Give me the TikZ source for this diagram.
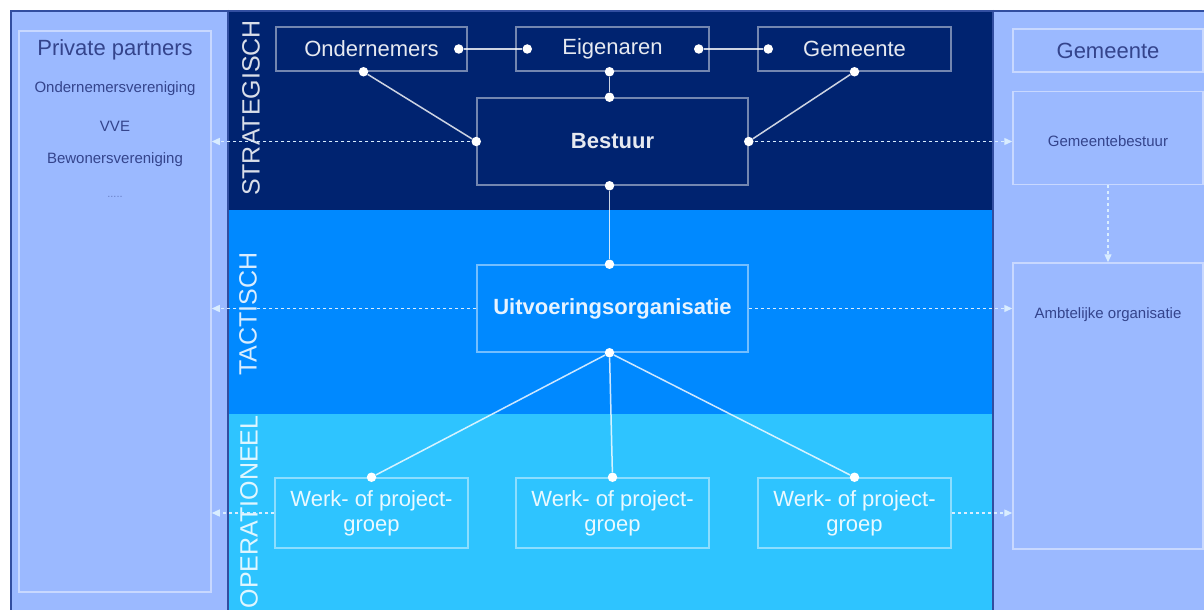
\documentclass[tikz,border=0pt]{standalone}
\usepackage{fontspec}
\setmainfont{Liberation Sans}
\usepackage{tikz}
\usetikzlibrary{arrows.meta}
\definecolor{navy}{RGB}{0,35,112}
\definecolor{tactblue}{RGB}{0,137,255}
\definecolor{operblue}{RGB}{46,196,255}
\definecolor{panelblue}{RGB}{155,185,255}
\definecolor{frameblue}{RGB}{50,78,160}
\definecolor{paneltext}{RGB}{52,68,140}

\begin{document}
\begin{tikzpicture}[x=1pt,y=-1pt]
\tikzset{box/.style = {shape=rectangle,draw=white,draw opacity=0.45,line width=1.5pt,inner sep=0pt,minimum width=193pt,minimum height=44pt,text=white,text opacity=0.9,font=\fontsize{22}{25}\selectfont,align=center}}
\tikzset{pbox/.style = {shape=rectangle,draw=white,draw opacity=0.45,line width=1.5pt,inner sep=0pt,minimum width=190pt}}
\tikzset{ptext/.style = {text=paneltext,font=\fontsize{15}{18}\selectfont,inner sep=0pt}}
\tikzset{level/.style = {text=white,text opacity=0.85,font=\fontsize{25}{28}\selectfont,rotate=90,inner sep=0pt}}
\tikzset{dot/.style = {shape=circle,fill=white,inner sep=0pt,minimum size=9.5pt}}
\tikzset{link/.style = {draw=white,draw opacity=0.8,line width=1.5pt}}
\tikzset{relation/.style = {-{Triangle[length=8pt,width=7pt]},draw=white!85!tactblue,line width=1.3pt,dash pattern=on 3pt off 3pt}}
\useasboundingbox (0,0) rectangle (1204,610);
\clip (0,0) rectangle (1204,610);
\fill[white] (0,0) rectangle (1204,610);
\fill[panelblue] (10,10) rectangle (1210,620);
\fill[navy] (229,10) rectangle (993,210);
\fill[tactblue] (229,210) rectangle (993,414);
\fill[operblue] (229,414) rectangle (993,620);
\draw[frameblue,line width=2.5pt] (11,11) rectangle (1215,625);
\draw[frameblue,line width=2.5pt] (228,10) -- (228,620);
\draw[frameblue,line width=2.5pt] (993,10) -- (993,620);
\node[level](strat) at (251, 108) {STRATEGISCH};
\node[level](tact) at (248, 314) {TACTISCH};
\node[level](oper) at (249, 512) {OPERATIONEEL};
\node[pbox,minimum width=192pt,minimum height=561pt](priv) at (115, 311.5) {};
\node[ptext,font=\fontsize{22}{25}\selectfont](privtitle) at (115, 50) {Private partners};
\node[ptext](ondv) at (115, 89) {Ondernemersvereniging};
\node[ptext](vve) at (115, 126) {VVE};
\node[ptext](bewv) at (115, 160) {Bewonersvereniging};
\node[ptext,text opacity=0.5,font=\fontsize{11}{13}\selectfont](more) at (115, 197) {.....};
\node[pbox,minimum height=43pt,text=paneltext,font=\fontsize{22}{25}\selectfont](gemh) at (1108, 50.5) {Gemeente};
\node[pbox,minimum height=93pt](gemb) at (1108, 138) {};
\node[ptext](gembtxt) at (1108, 141) {Gemeentebestuur};
\node[pbox,minimum height=286pt](ambt) at (1108, 406) {};
\node[ptext](ambttxt) at (1108, 315) {Ambtelijke organisatie};
\node[box,minimum width=191pt](ond) at (371.5, 49) {Ondernemers};
\node[box](eig) at (612.5, 49) {Eigenaren};
\node[box](gem) at (854.5, 49) {Gemeente};
\node[box,minimum width=271pt,minimum height=87pt,font=\fontsize{22}{25}\selectfont\bfseries](bestuur) at (612.5, 141.5) {Bestuur};
\node[box,minimum width=271pt,minimum height=87pt,font=\fontsize{22}{25}\selectfont\bfseries](uitv) at (612.5, 308.5) {Uitvoeringsorganisatie};
\node[box,minimum height=70pt](werk1) at (371.5, 513) {Werk- of project-\\groep};
\node[box,minimum height=70pt](werk2) at (612.5, 513) {Werk- of project-\\groep};
\node[box,minimum height=70pt](werk3) at (854.5, 513) {Werk- of project-\\groep};
\draw[relation] (bestuur.west) -- (bestuur.west -| priv.east);
\draw[relation] (bestuur.east) -- (bestuur.east -| gemb.west);
\draw[relation] (uitv.west) -- (uitv.west -| priv.east);
\draw[relation] (uitv.east) -- (uitv.east -| ambt.west);
\draw[relation] (werk1.west) -- (werk1.west -| priv.east);
\draw[relation] (werk3.east) -- (werk3.east -| ambt.west);
\draw[relation] (gemb.south) -- (ambt.north);
\node[dot](ondr) at ([xshift=-9pt]ond.east) {};
\node[dot](eigl) at ([xshift=12pt]eig.west) {};
\node[dot](eigr) at ([xshift=-11pt]eig.east) {};
\node[dot](geml) at ([xshift=11pt]gem.west) {};
\node[dot](onds) at ([xshift=-8pt]ond.south) {};
\node[dot](eigs) at ([xshift=-3pt]eig.south) {};
\node[dot](gems) at (gem.south) {};
\node[dot](bestn) at ([xshift=-3pt]bestuur.north) {};
\node[dot](bestw) at (bestuur.west) {};
\node[dot](beste) at (bestuur.east) {};
\node[dot](bests) at ([xshift=-3pt]bestuur.south) {};
\node[dot](uitn) at ([xshift=-3pt]uitv.north) {};
\node[dot](uits) at ([xshift=-3pt]uitv.south) {};
\node[dot](w1n) at (werk1.north) {};
\node[dot](w2n) at (werk2.north) {};
\node[dot](w3n) at (werk3.north) {};
\draw[link] (ondr) -- (eigl);
\draw[link] (eigr) -- (geml);
\draw[link] (onds) -- (bestw);
\draw[link] (eigs) -- (bestn);
\draw[link] (gems) -- (beste);
\draw[link] (bests) -- (uitn);
\draw[link] (uits) -- (w1n);
\draw[link] (uits) -- (w2n);
\draw[link] (uits) -- (w3n);
\end{tikzpicture}
\end{document}
